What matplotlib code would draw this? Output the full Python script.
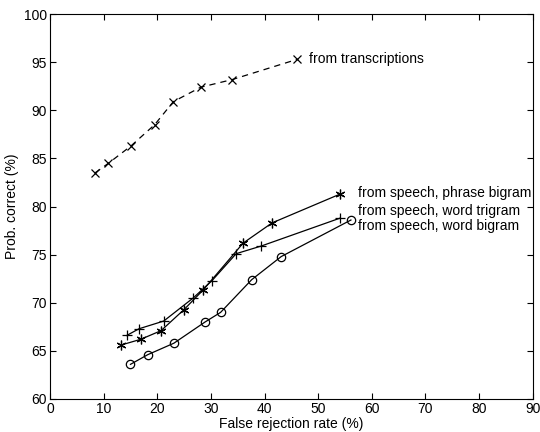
import matplotlib
matplotlib.use("Agg")
import matplotlib.pyplot as plt

plt.rcParams['font.family'] = ['Liberation Sans', 'DejaVu Sans']
plt.rcParams['font.size'] = 10

# from transcriptions
trans_x = [8.4, 10.9, 15.1, 19.5, 23.0, 28.1, 34.0, 46.1]
trans_y = [83.5, 84.5, 86.3, 88.5, 90.9, 92.4, 93.2, 95.3]

# from speech, phrase bigram
phrase_x = [13.2, 16.9, 20.7, 25.0, 28.5, 36.0, 41.4, 54.1]
phrase_y = [65.6, 66.2, 67.1, 69.3, 71.3, 76.2, 78.3, 81.3]

# from speech, word trigram
trigram_x = [14.3, 16.6, 21.2, 26.7, 30.2, 34.7, 39.4, 54.1]
trigram_y = [66.6, 67.3, 68.1, 70.5, 72.3, 75.1, 75.9, 78.8]

# from speech, word bigram
bigram_x = [15.0, 18.2, 23.1, 28.9, 31.8, 37.6, 43.1, 56.1]
bigram_y = [63.6, 64.6, 65.8, 68.0, 69.0, 72.4, 74.8, 78.6]

fig = plt.figure(figsize=(5.4, 4.32), dpi=100)
ax = fig.add_axes([0.0926, 0.0764, 0.894, 0.891])

ax.plot(trans_x, trans_y, color='black', lw=0.9, ls=(0, (5, 4)),
        marker='x', ms=6, mew=0.9)
ax.plot(phrase_x, phrase_y, color='black', lw=0.9, marker=(6, 2, 0),
        ms=7, mew=0.9)
ax.plot(trigram_x, trigram_y, color='black', lw=0.9, marker='+',
        ms=7, mew=0.9)
ax.plot(bigram_x, bigram_y, color='black', lw=0.9, marker='o',
        ms=6, mew=0.9, mfc='none')

ax.text(48.3, 95.3, 'from transcriptions', va='center', ha='left')
ax.text(57.4, 81.4, 'from speech, phrase bigram', va='center', ha='left')
ax.text(57.4, 79.5, 'from speech, word trigram', va='center', ha='left')
ax.text(57.4, 78.0, 'from speech, word bigram', va='center', ha='left')

ax.set_xlim(0, 90)
ax.set_ylim(60, 100)
ax.set_xticks(range(0, 91, 10))
ax.set_yticks(range(60, 101, 5))
ax.tick_params(direction='in', top=True, right=True, length=4, width=0.8, pad=2)
for s in ax.spines.values():
    s.set_linewidth(0.8)

ax.set_xlabel('False rejection rate (%)', labelpad=1)
ax.set_ylabel('Prob. correct (%)', labelpad=4)

fig.savefig('out.png', dpi=100)
